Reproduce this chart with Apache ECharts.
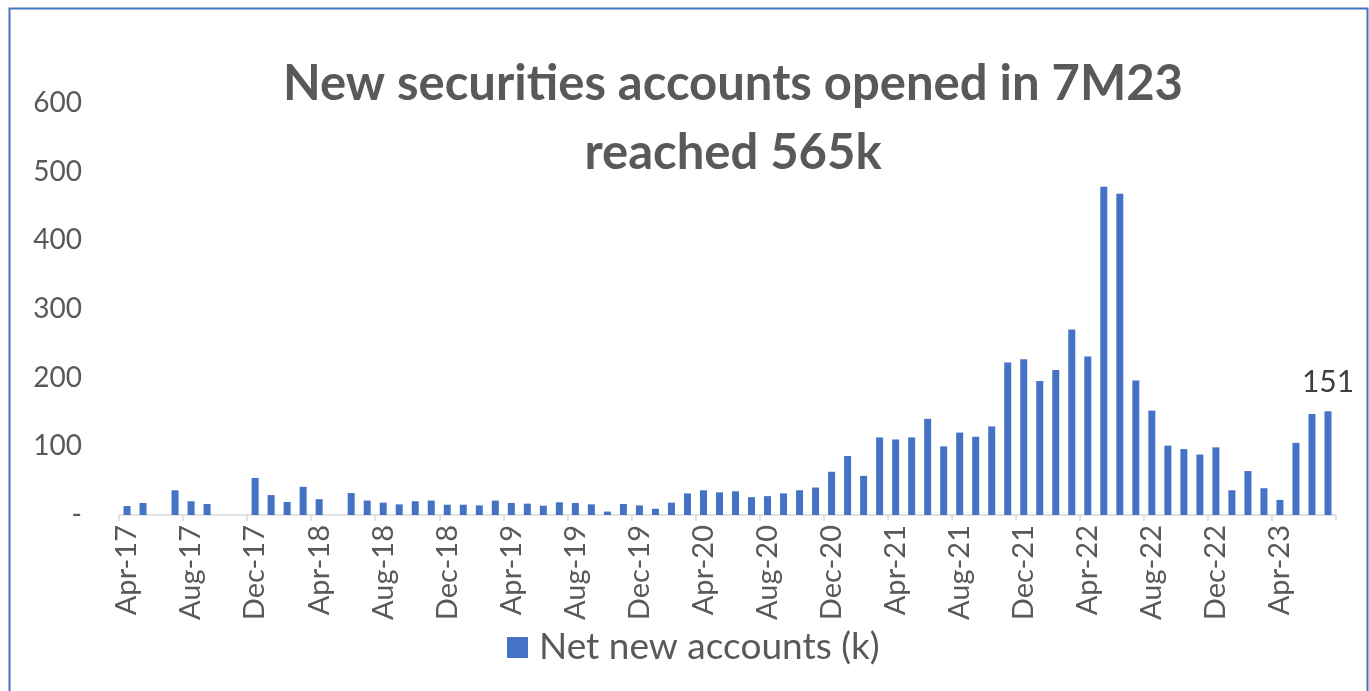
<!DOCTYPE html>
<html>
<head>
<meta charset="utf-8">
<script src="https://cdn.jsdelivr.net/npm/echarts@6/dist/echarts.min.js"></script>
<style>
html,body{margin:0;padding:0;background:#fff;}
#chart{width:1369px;height:691px;}
</style>
</head>
<body>
<div id="chart"></div>
<script>
const categories = [
  'Apr-17','May-17','Jun-17','Jul-17','Aug-17','Sep-17','Oct-17','Nov-17','Dec-17',
  'Jan-18','Feb-18','Mar-18','Apr-18','May-18','Jun-18','Jul-18','Aug-18','Sep-18','Oct-18','Nov-18','Dec-18',
  'Jan-19','Feb-19','Mar-19','Apr-19','May-19','Jun-19','Jul-19','Aug-19','Sep-19','Oct-19','Nov-19','Dec-19',
  'Jan-20','Feb-20','Mar-20','Apr-20','May-20','Jun-20','Jul-20','Aug-20','Sep-20','Oct-20','Nov-20','Dec-20',
  'Jan-21','Feb-21','Mar-21','Apr-21','May-21','Jun-21','Jul-21','Aug-21','Sep-21','Oct-21','Nov-21','Dec-21',
  'Jan-22','Feb-22','Mar-22','Apr-22','May-22','Jun-22','Jul-22','Aug-22','Sep-22','Oct-22','Nov-22','Dec-22',
  'Jan-23','Feb-23','Mar-23','Apr-23','May-23','Jun-23','Jul-23'
];
const netNewAccounts = [
  13, 17.5, 0, 36, 20, 16, 0, 0, 54,
  29, 19, 41, 23, 0, 32, 21, 18, 15.5, 20, 21, 15,
  15, 14, 21, 17.5, 16.5, 13.5, 18.5, 17.5, 15.5, 5, 16, 14,
  9, 18, 31.5, 36, 33, 34.5, 26, 27.5, 31.5, 36, 40, 63,
  86, 57, 113, 110, 113, 140, 100, 120, 114, 129, 222, 227,
  195, 211, 270, 231, 478, 468, 196, 152, 101, 96, 88, 98.5,
  36, 64, 39, 22, 105, 147, 151
];
const yTicks = [0, 100, 200, 300, 400, 500, 600];
const titleLines = ['New securities accounts opened in 7M23', 'reached 565k'];
const seriesName = 'Net new accounts (k)';

const lastIdx = netNewAccounts.length - 1;
const seriesData = netNewAccounts.map((v, i) => i === lastIdx ? {
  value: v,
  label: {show: true, position: 'top', distance: 14, formatter: '{c}', color: '#404040', fontSize: 30, fontFamily: 'Lato'}
} : v);

const chart = echarts.init(document.getElementById('chart'), null, {renderer: 'canvas'});
chart.setOption({
  animation: false,
  backgroundColor: '#ffffff',
  graphic: [{
    type: 'rect', left: 7, top: 6,
    shape: {width: 1358, height: 720},
    style: {fill: 'none', stroke: '#4472C4', lineWidth: 2},
    silent: true
  }],
  title: {
    text: titleLines.join('\n'),
    left: 728, top: 45, textAlign: 'center',
    textStyle: {fontFamily: 'Lato', fontWeight: 'bold', fontSize: 49, color: '#595959', lineHeight: 69}
  },
  legend: {
    data: [seriesName],
    left: 502, top: 624,
    icon: 'rect', itemWidth: 21, itemHeight: 21,
    textStyle: {fontFamily: 'Lato', fontSize: 37, color: '#595959', padding: [0, 0, 0, 6]}
  },
  grid: {left: 119, right: 33, top: 103, bottom: 176, containLabel: false},
  xAxis: {
    type: 'category',
    data: categories,
    boundaryGap: true,
    axisLine: {lineStyle: {color: '#D9D9D9', width: 1.5}},
    axisTick: {show: true, interval: 3, length: 6, lineStyle: {color: '#D9D9D9', width: 1.5}},
    axisLabel: {interval: 3, rotate: 90, margin: 10, fontFamily: 'Lato', fontSize: 29, color: '#595959'}
  },
  yAxis: {
    type: 'value',
    min: 0, max: 600, interval: 100,
    splitLine: {show: false},
    axisLine: {show: false},
    axisTick: {show: false},
    axisLabel: {
      margin: 37, fontFamily: 'Lato', fontSize: 28, color: '#595959',
      formatter: v => yTicks.includes(v) ? (v === 0 ? '-' : String(v)) : ''
    }
  },
  series: [{
    name: seriesName,
    type: 'bar',
    data: seriesData,
    barWidth: 7,
    itemStyle: {color: '#4472C4'}
  }]
});
</script>
</body>
</html>
